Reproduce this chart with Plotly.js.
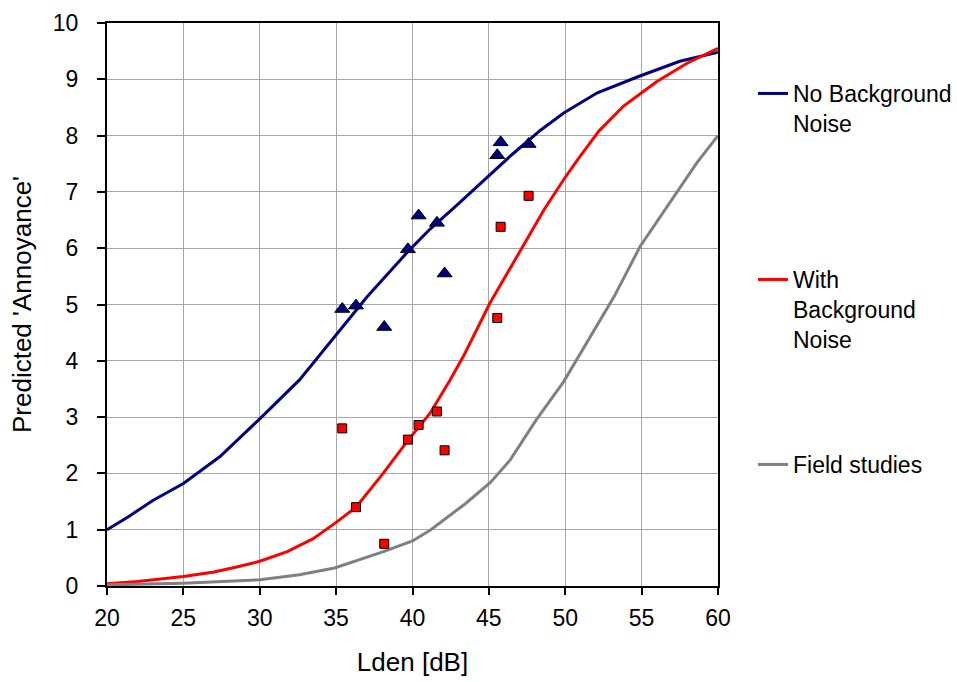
<!DOCTYPE html>
<html>
<head>
<meta charset="utf-8">
<script src="https://cdn.plot.ly/plotly-3.0.1.min.js"></script>
<style>html,body{margin:0;padding:0;background:#fff;}#chart{width:957px;height:682px;}</style>
</head>
<body>
<div id="chart"></div>
<script>
// Curve: No Background Noise
const noBgX = [20, 21.4, 23, 25, 27.4, 30, 32.6, 34.8, 37.0, 39.7, 41.15, 42.8, 44.4, 46.5, 48.4, 49.9, 52.1, 54.8, 57.5, 60];
const noBgY = [1.0, 1.23, 1.52, 1.82, 2.30, 2.97, 3.66, 4.39, 5.13, 5.94, 6.34, 6.74, 7.14, 7.66, 8.10, 8.40, 8.76, 9.05, 9.32, 9.48];
// Curve: With Background Noise
const withBgX = [20, 22, 25, 27, 28.7, 30, 31.8, 33.5, 35.0, 36.3, 38.1, 39.65, 41.15, 42.46, 43.33, 45.08, 46.6, 47.7, 48.6, 49.9, 50.8, 52.2, 53.8, 55.0, 56.0, 58.0, 60];
const withBgY = [0.04, 0.08, 0.17, 0.25, 0.35, 0.44, 0.61, 0.84, 1.13, 1.40, 2.01, 2.57, 3.07, 3.66, 4.08, 5.03, 5.74, 6.27, 6.68, 7.22, 7.57, 8.08, 8.52, 8.76, 8.96, 9.29, 9.55];
// Curve: Field studies
const fieldX = [20, 25, 30, 32.6, 34.9, 36.6, 38.1, 40, 41.2, 43.5, 45.1, 46.4, 48.1, 49.9, 51.4, 53.2, 54.9, 56.4, 58.6, 60];
const fieldY = [0.02, 0.05, 0.11, 0.20, 0.32, 0.47, 0.61, 0.80, 1.00, 1.47, 1.84, 2.24, 2.95, 3.63, 4.32, 5.14, 6.03, 6.63, 7.51, 8.00];
// Measured points
const ptsX = [35.4, 36.3, 38.15, 39.7, 40.4, 41.6, 42.1, 45.55, 45.77, 47.6];
const triY = [4.92, 4.98, 4.60, 5.98, 6.58, 6.45, 5.55, 7.65, 7.88, 7.85];
const sqY  = [2.80, 1.40, 0.75, 2.60, 2.86, 3.10, 2.41, 4.76, 6.38, 6.93];
const legendNames = ['No Background<br>Noise', 'With<br>Background<br>Noise', 'Field studies'];

const FONT = 'Liberation Sans, Arial, sans-serif';
const traces = [
  {x: noBgX, y: noBgY, mode: 'lines', name: legendNames[0], line: {color: '#000080', width: 3}, legend: 'legend'},
  {x: withBgX, y: withBgY, mode: 'lines', name: legendNames[1], line: {color: '#ff0000', width: 3}, legend: 'legend2'},
  {x: fieldX, y: fieldY, mode: 'lines', name: legendNames[2], line: {color: '#808080', width: 3}, legend: 'legend3'},
  {x: ptsX, y: triY, mode: 'markers', showlegend: false, cliponaxis: false,
   marker: {symbol: 'triangle-up', size: 13, color: '#000080', line: {color: '#000000', width: 1}}},
  {x: ptsX, y: sqY, mode: 'markers', showlegend: false, cliponaxis: false,
   marker: {symbol: 'square', size: 9, color: '#ff0000', line: {color: '#000000', width: 1}}}
];

const legBase = {
  font: {family: FONT, size: 23, color: '#000'},
  bgcolor: 'rgba(0,0,0,0)', borderwidth: 0,
  xanchor: 'left', yanchor: 'top', valign: 'top', x: 1.0573
};

const layout = {
  width: 957, height: 682,
  margin: {l: 107, r: 239, t: 23, b: 96, autoexpand: false},
  paper_bgcolor: '#ffffff', plot_bgcolor: '#ffffff',
  font: {family: FONT, color: '#000'},
  showlegend: true,
  xaxis: {
    range: [20, 60], tick0: 20, dtick: 5, showgrid: true, gridcolor: '#a6a6a6', gridwidth: 1,
    zeroline: false, showline: true, linecolor: '#000', linewidth: 2, mirror: true,
    ticks: 'outside', ticklen: 7, tickwidth: 2, tickcolor: '#000', ticklabelstandoff: 3,
    tickfont: {family: FONT, size: 23, color: '#000'},
    title: {text: 'Lden [dB]', font: {family: FONT, size: 26, color: '#000'}, standoff: 23}
  },
  yaxis: {
    range: [0, 10], tick0: 0, dtick: 1, showgrid: true, gridcolor: '#a6a6a6', gridwidth: 1,
    zeroline: false, showline: true, linecolor: '#000', linewidth: 2, mirror: true,
    ticks: 'outside', ticklen: 8, tickwidth: 2, tickcolor: '#000', ticklabelstandoff: 14,
    tickfont: {family: FONT, size: 23, color: '#000'},
    title: {text: "Predicted 'Annoyance'", font: {family: FONT, size: 26, color: '#000'}, standoff: 14}
  },
  legend: Object.assign({}, legBase, {y: 0.913}),
  legend2: Object.assign({}, legBase, {y: 0.5826}),
  legend3: Object.assign({}, legBase, {y: 0.254})
};

Plotly.newPlot('chart', traces, layout, {displayModeBar: false, staticPlot: true});
</script>
</body>
</html>
